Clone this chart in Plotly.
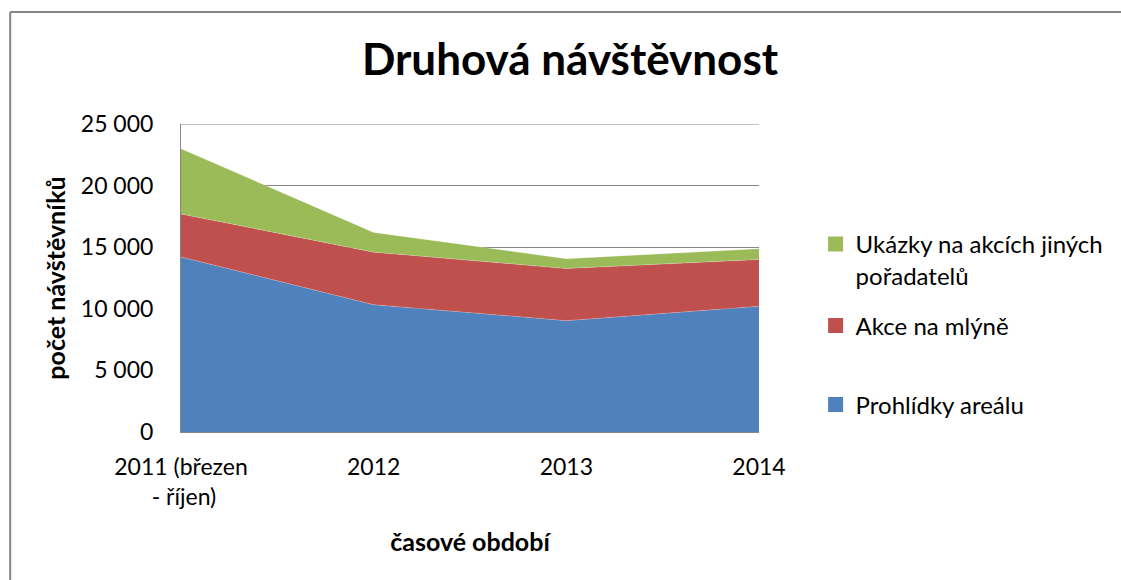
import plotly.graph_objects as go

categories = ["2011 (březen<br> - říjen)", "2012", "2013", "2014"]
prohlidky = [14200, 10330, 9040, 10200]
akce = [3500, 4270, 4230, 3800]
ukazky = [5300, 1600, 790, 870]
series_names = ["Prohlídky areálu", "Akce na mlýně", "Ukázky na akcích jiných<br>pořadatelů"]
colors = ["#4F81BD", "#C0504D", "#9BBB59"]
y_ticks = [0, 5000, 10000, 15000, 20000, 25000]
y_ticktext = ["0", "5 000", "10 000", "15 000", "20 000", "25 000"]

FONT = "Lato"
W, H = 1121, 580
L, R, T, B = 181, 1121 - 763, 124, 580 - 432

fig = go.Figure()
values = [prohlidky, akce, ukazky]
for name, vals, col in zip(series_names, values, colors):
    fig.add_trace(go.Scatter(
        x=categories, y=vals, name=name, stackgroup="one",
        mode="lines", line=dict(width=0.6, color="rgba(255,255,255,0.35)"),
        fillcolor=col, showlegend=False, hoverinfo="x+y+name"))

legend_ids = ["legend3", "legend2", "legend"]
for name, col, lid in zip(series_names, colors, legend_ids):
    fig.add_trace(go.Scatter(
        x=[None], y=[None], name=name, mode="markers",
        marker=dict(symbol="square", size=15, color=col),
        legend=lid, showlegend=True))

pw = W - L - R
ph = H - T - B
def px_x(x):
    return (x - L) / pw
def px_y(y):
    return (H - B - y) / ph

leg_common = dict(xanchor="left", yanchor="middle", bgcolor="rgba(0,0,0,0)",
                  font=dict(family=FONT, size=24, color="#000000"),
                  itemwidth=30, borderwidth=0)

fig.update_layout(
    width=W, height=H,
    margin=dict(l=L, r=R, t=T, b=B),
    paper_bgcolor="white", plot_bgcolor="white",
    title=dict(text="<b>Druhová návštěvnost</b>", x=(570) / W, xanchor="center",
               y=1 - 60 / H, yanchor="middle",
               font=dict(family=FONT, size=44, color="#000000")),
    xaxis=dict(type="category", range=[0, 3], showgrid=False,
               showline=True, linecolor="#868686", linewidth=1,
               ticks="", tickfont=dict(family=FONT, size=23, color="#000000"),
               ticklabelstandoff=14,
               title=dict(text="<b>časové období</b>",
                          font=dict(family=FONT, size=25, color="#000000"),
                          standoff=24),
               fixedrange=True),
    yaxis=dict(range=[0, 25000], tickvals=y_ticks, ticktext=y_ticktext,
               showgrid=True, gridcolor="#868686", gridwidth=1,
               showline=True, linecolor="#868686", linewidth=1,
               zeroline=False, ticks="",
               tickfont=dict(family=FONT, size=23, color="#000000"),
               ticklabelstandoff=22,
               title=dict(text="<b>počet návštěvníků</b>",
                          font=dict(family=FONT, size=25, color="#000000"),
                          standoff=8),
               fixedrange=True),
    legend=dict(x=px_x(820), y=px_y(260), valign="top", **leg_common),
    legend2=dict(x=px_x(820), y=px_y(326), **leg_common),
    legend3=dict(x=px_x(820), y=px_y(405), **leg_common),
    shapes=[dict(type="line", xref="paper", yref="paper",
                 x0=px_x(9), x1=px_x(1130), y0=px_y(12), y1=px_y(12),
                 line=dict(color="#868686", width=2)),
            dict(type="line", xref="paper", yref="paper",
                 x0=px_x(9), x1=px_x(9), y0=px_y(12), y1=px_y(600),
                 line=dict(color="#868686", width=2)),
            dict(type="line", xref="paper", yref="y", layer="below",
                 x0=0, x1=1, y0=y_ticks[-1], y1=y_ticks[-1],
                 line=dict(color="#868686", width=1))],
)

fig.write_html("out.html", config={"displayModeBar": False},
               post_script="document.body.style.margin='0';")
